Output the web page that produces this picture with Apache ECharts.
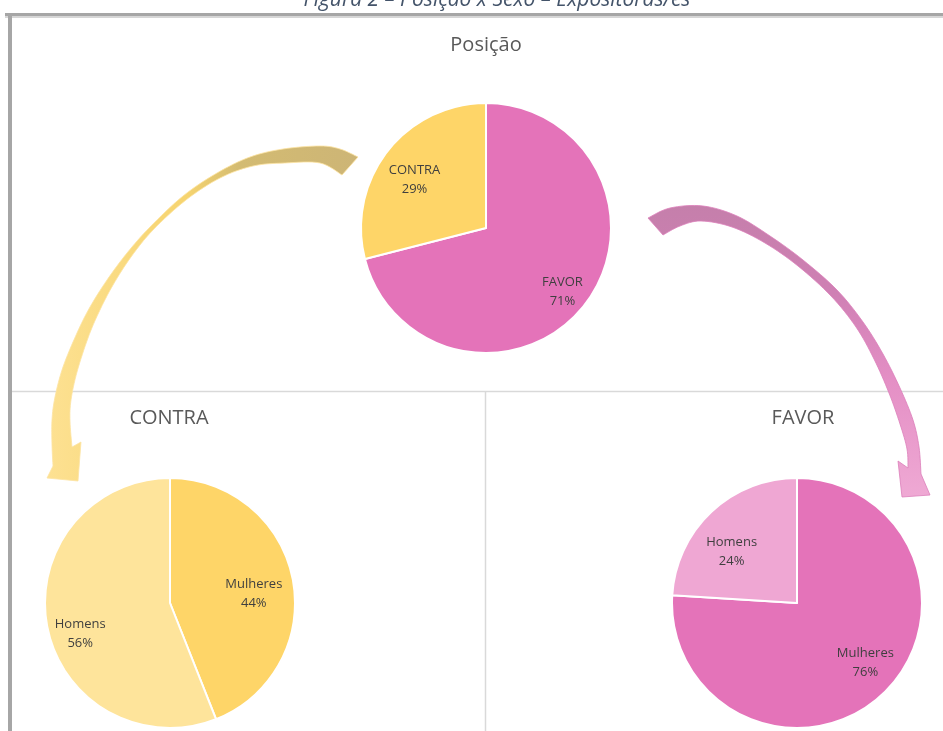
<!DOCTYPE html>
<html>
<head>
<meta charset="utf-8">
<script src="https://cdn.jsdelivr.net/npm/echarts@6/dist/echarts.min.js"></script>
<style>
html,body{margin:0;padding:0;background:#fff;}
#chart{width:943px;height:731px;}
</style>
</head>
<body>
<div id="chart"></div>
<script>
// ---- data ----
var posicaoNames = ['FAVOR', 'CONTRA'];
var posicaoValues = [71, 29];
var contraNames = ['Mulheres', 'Homens'];
var contraValues = [44, 56];
var favorNames = ['Mulheres', 'Homens'];
var favorValues = [76, 24];
var titles = ['Posição', 'CONTRA', 'FAVOR'];
var caption = 'Figura 2 – Posição x Sexo – Expositoras/es';

// ---- styling ----
var PINK = '#E473B9', PINK_L = '#EFA7D3', YEL = '#FED568', YEL_L = '#FEE49B';
var FONT = '"Open Sans", "Noto Sans", sans-serif';
var R = 125;
// label nudges (style only) to mimic the original "best fit" placement
var posicaoLabelShift = [[1, 5], [4, 10]];
var contraLabelShift = [[-10, 9], [4, 13]];
var favorLabelShift = [[3, -10], [0, 18]];

function toData(names, values, colors) {
  return names.map(function (n, i) {
    return { name: n, value: values[i], itemStyle: { color: colors[i] } };
  });
}

function pieSeries(center, names, values, colors, shifts) {
  var base = {
    type: 'pie', center: center, startAngle: 90, clockwise: true,
    animation: false, avoidLabelOverlap: false
  };
  var main = Object.assign({}, base, {
    radius: [0, R],
    label: { show: false }, labelLine: { show: false },
    itemStyle: { borderColor: '#ffffff', borderWidth: 2 },
    data: toData(names, values, colors)
  });
  var labels = Object.assign({}, base, {
    radius: [R * 0.48, R], silent: true, z: 5,
    itemStyle: { color: 'rgba(0,0,0,0)' },
    label: {
      show: true, position: 'inside', formatter: '{b}\n{d}%',
      color: '#3F3F3F', fontFamily: FONT, fontSize: 13, lineHeight: 19
    },
    labelLine: { show: false },
    data: names.map(function (n, i) {
      return { name: n, value: values[i], itemStyle: { color: 'rgba(0,0,0,0)' },
        label: { offset: shifts[i] } };
    })
  });
  return [main, labels];
}

// Catmull-Rom sampled curve for smooth arrow edges
function crPoints(pts) {
  var out = [pts[0]];
  for (var i = 0; i < pts.length - 1; i++) {
    var p0 = pts[i - 1] || pts[i], p1 = pts[i], p2 = pts[i + 1], p3 = pts[i + 2] || p2;
    var c1 = [p1[0] + (p2[0] - p0[0]) / 6, p1[1] + (p2[1] - p0[1]) / 6];
    var c2 = [p2[0] - (p3[0] - p1[0]) / 6, p2[1] - (p3[1] - p1[1]) / 6];
    for (var k = 1; k <= 8; k++) {
      var t = k / 8, u = 1 - t;
      out.push([
        u*u*u*p1[0] + 3*u*u*t*c1[0] + 3*u*t*t*c2[0] + t*t*t*p2[0],
        u*u*u*p1[1] + 3*u*u*t*c1[1] + 3*u*t*t*c2[1] + t*t*t*p2[1]
      ]);
    }
  }
  return out;
}
function arrowPoints(outer, head, inner) {
  return crPoints(outer).concat(head).concat(crPoints(inner));
}
function lin(x, y, x2, y2, stops) {
  return { type: 'linear', x: x, y: y, x2: x2, y2: y2, global: false,
    colorStops: stops.map(function (s) { return { offset: s[0], color: s[1] }; }) };
}

// decorative arrow outlines
var yOuter = [[358,157],[340,149],[320,146],[283,149],[250,157],[217,173],[183,196],[150,227],[127,253],[107,280],[90,307],[77,333],[63,367],[55,397],[52,420],[52,445],[53,466]];
var yHead = [[47,478],[78,481],[81,442]];
var yInner = [[72,447],[70,421],[71,400],[77,372],[88,338],[99,312],[113,285],[131,257],[153,230],[186,200],[220,178],[253,166],[285,163],[320,163],[342,175]];

var pOuter = [[648,218],[670,208],[703,206],[737,216],[770,236],[803,260],[837,290],[863,322],[883,354],[900,388],[913,420],[919,447],[921,474]];
var pHead = [[930,495],[902,497],[898,461]];
var pInner = [[908,468],[907,449],[900,424],[889,393],[874,359],[856,327],[831,296],[798,266],[765,243],[732,227],[701,221],[680,226],[663,235]];

var chart = echarts.init(document.getElementById('chart'), null, { renderer: 'canvas' });
var series = []
  .concat(pieSeries([486, 228], posicaoNames, posicaoValues, [PINK, YEL], posicaoLabelShift))
  .concat(pieSeries([170, 603], contraNames, contraValues, [YEL, YEL_L], contraLabelShift))
  .concat(pieSeries([797, 603], favorNames, favorValues, [PINK, PINK_L], favorLabelShift));

function titleText(t, x, y) {
  return { type: 'text', z: 10, style: { text: t, x: x, y: y, align: 'center', verticalAlign: 'middle',
    font: '20px ' + FONT, fill: '#595959' } };
}

chart.setOption({
  backgroundColor: '#ffffff',
  animation: false,
  graphic: [
    { type: 'text', z: 10,
      style: { text: caption, x: 497, y: 0, align: 'center', verticalAlign: 'middle',
        font: 'italic 21px ' + FONT, fill: '#44546A' } },
    { type: 'rect', shape: { x: 5, y: 13, width: 945, height: 3 }, style: { fill: '#A6A6A6' }, z: 1 },
    { type: 'rect', shape: { x: 5, y: 16, width: 945, height: 2 }, style: { fill: '#D6D6D6' }, z: 1 },
    { type: 'rect', shape: { x: 8, y: 13, width: 4, height: 720 }, style: { fill: '#A6A6A6' }, z: 1 },
    { type: 'line', shape: { x1: 12, y1: 391.5, x2: 943, y2: 391.5 }, style: { stroke: '#D9D9D9', lineWidth: 1.5 }, z: 1 },
    { type: 'line', shape: { x1: 485.5, y1: 392, x2: 485.5, y2: 731 }, style: { stroke: '#D9D9D9', lineWidth: 1.5 }, z: 1 },
    titleText(titles[0], 486, 45),
    titleText(titles[1], 169, 418),
    titleText(titles[2], 803, 418),
    { type: 'polygon', z: 3,
      shape: { points: arrowPoints(yOuter, yHead, yInner) },
      style: {
        fill: lin(1, 0, 0, 0, [[0, '#CDB576'], [0.38, '#D3BB72'], [0.55, '#F6D46F'], [1, '#FDE192']]),
        stroke: '#FCE3A2', lineWidth: 0.8
      } },
    { type: 'polygon', z: 3,
      shape: { points: arrowPoints(pOuter, pHead, pInner) },
      style: {
        fill: lin(0, 0, 0, 1, [[0, '#C57FAB'], [0.3, '#CF80B4'], [0.6, '#E48FC5'], [1, '#EFA9D4']]),
        stroke: '#DC7FBA', lineWidth: 0.8
      } }
  ],
  series: series
});
</script>
</body>
</html>
